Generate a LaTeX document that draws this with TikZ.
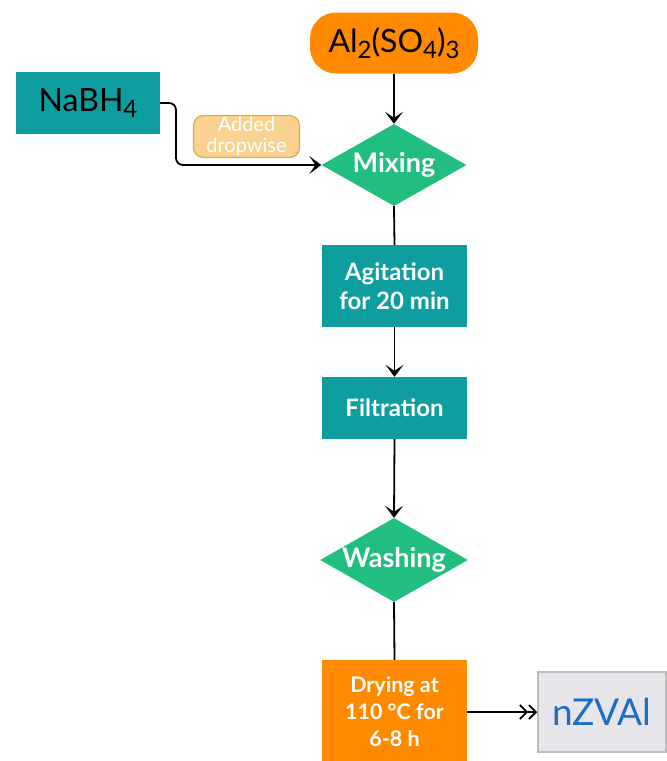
\documentclass[tikz,border=0pt]{standalone}
\usepackage{fontspec}
\setmainfont{Lato}
\usetikzlibrary{shapes.geometric,arrows.meta,positioning}
\definecolor{orng}{HTML}{FF8A00}
\definecolor{teal2}{HTML}{0E9EA0}
\definecolor{grn}{HTML}{22BE80}
\definecolor{lblfill}{HTML}{F8D28E}
\definecolor{lbldraw}{HTML}{E2A94A}
\definecolor{endfill}{HTML}{E8E5EA}
\definecolor{enddraw}{HTML}{BDBDBD}
\definecolor{endtext}{HTML}{1A6FC4}
\newcommand{\chemsub}[1]{\raisebox{-0.35ex}{\scalebox{0.75}{#1}}}
\begin{document}
\begin{tikzpicture}[x=1pt,y=-1pt,
  tealbox/.style={rectangle,fill=teal2,text=white,font=\bfseries\fontsize{24}{29}\selectfont,align=center,inner sep=0pt},
  dmd/.style={diamond,fill=grn,text=white,font=\bfseries\fontsize{27}{30}\selectfont,inner sep=0pt,minimum width=145pt,minimum height=82pt,aspect=1.76},
  conn/.style={draw=black,line width=1.8pt},
  tip/.style={-{Stealth[length=12pt,width=18pt,inset=6pt]}}
]
\useasboundingbox (0,0) rectangle (667,761);
\fill[white] (0,0) rectangle (667,761);

\node[rectangle,rounded corners=26pt,fill=orng,minimum width=168pt,minimum height=61pt,font=\fontsize{32}{36}\selectfont,inner sep=0pt] (al) at (394,43) {Al\chemsub{2}(SO\chemsub{4})\chemsub{3}};
\node[rectangle,fill=teal2,minimum width=144pt,minimum height=62pt,font=\fontsize{32}{36}\selectfont,inner sep=0pt] (na) at (88,103) {NaBH\chemsub{4}};
\node[dmd] (mix) at (394,165) {Mixing};
\node[tealbox,minimum width=145pt,minimum height=82pt] (agi) at (394.5,286) {Agitation\\for 20 min};
\node[tealbox,minimum width=145pt,minimum height=62pt] (fil) at (394.5,408) {Filtration};
\node[dmd,minimum height=80pt] (wash) at (394,560) {Washing};
\node[rectangle,fill=orng,text=white,font=\bfseries\fontsize{21.5}{27}\selectfont,align=center,minimum width=145pt,minimum height=104pt,inner sep=0pt] (dry) at (394.5,712) {Drying at\\110 °C for\\6-8 h};
\node[rectangle,fill=endfill,draw=enddraw,line width=1.5pt,minimum width=128pt,minimum height=80pt,text=endtext,font=\fontsize{37}{40}\selectfont,inner sep=0pt] (nz) at (602,712) {nZVAl};
\node[rectangle,rounded corners=10pt,fill=lblfill,draw=lbldraw,line width=1.2pt,minimum width=106pt,minimum height=42pt,text=white,font=\fontsize{20}{21}\selectfont,align=center,inner sep=0pt] (lbl) at (246.5,136.5) {Added\\dropwise};

\coordinate (c1) at (176,103);
\coordinate (c2) at (176,165);
\draw[conn,tip] (al.south) -- (mix.north);
\draw[conn,tip,rounded corners=7pt] (na.east) -- (c1) -- (c2) -- (mix.west);
\draw[conn] (mix.south) -- (agi.north);
\draw[conn,tip] (agi.south) -- (fil.north);
\draw[conn,tip] (fil.south) -- (wash.north);
\draw[conn] (wash.south) -- (dry.north);
\draw[conn,-{Straight Barb[length=7pt,width=14pt]Straight Barb[length=7pt,width=14pt]}] (dry.east) -- (nz.west);
\end{tikzpicture}
\end{document}
